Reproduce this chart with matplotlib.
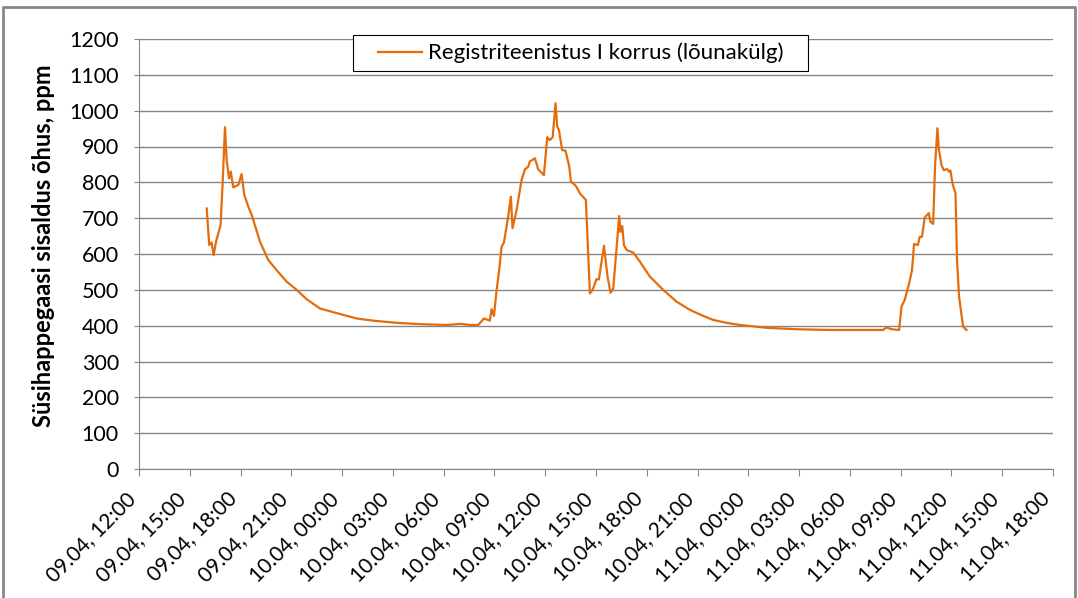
import matplotlib
matplotlib.use('Agg')
import matplotlib.pyplot as plt
from matplotlib.lines import Line2D
from matplotlib.patches import Rectangle
from matplotlib.transforms import ScaledTranslation

# hours since 09.04 12:00
hours = [4.0, 4.15, 4.29, 4.41, 4.55, 4.82, 4.94, 5.08, 5.18, 5.32, 5.42, 5.57, 5.87,
         6.06, 6.22, 6.46, 6.66, 7.15, 7.64, 8.13, 8.72, 9.31, 9.9, 10.69, 11.68, 12.86,
         13.84, 15.2, 16.7, 18.2, 19.0, 19.55, 20.04, 20.38, 20.73, 20.83, 20.97, 21.13,
         21.28, 21.42, 21.56, 21.81, 21.97, 22.07, 22.31, 22.6, 22.8, 23.0, 23.09, 23.39,
         23.59, 23.92, 24.12, 24.28, 24.44, 24.61, 24.71, 24.81, 25.0, 25.2, 25.42, 25.52,
         25.81, 26.05, 26.4, 26.64, 26.8, 27.03, 27.17, 27.47, 27.68, 27.86, 28.02, 28.37,
         28.45, 28.55, 28.65, 28.81, 29.2, 29.59, 30.18, 30.97, 31.76, 32.55, 33.3, 33.92,
         34.7, 35.5, 37.08, 38.85, 40.8, 42.6, 43.96, 44.16, 44.46, 44.91, 45.05, 45.24,
         45.5, 45.67, 45.79, 46.02, 46.12, 46.26, 46.42, 46.66, 46.76, 46.92, 47.03, 47.17,
         47.25, 47.41, 47.55, 47.74, 47.86, 47.94, 48.06, 48.24, 48.33, 48.45, 48.69, 48.89]
ppm = [727, 625, 632, 597, 634, 681, 797, 954, 862, 811, 830, 786, 793,
       823, 765, 732, 709, 634, 583, 555, 523, 500, 474, 448, 435, 420,
       414, 408, 404, 402, 405, 402, 402, 420, 414, 446, 427, 500,
       555, 620, 632, 704, 760, 672, 723, 806, 836, 844, 858, 867,
       836, 820, 926, 918, 926, 1021, 955, 946, 890, 888, 844, 802,
       790, 769, 751, 490, 500, 530, 529, 623, 537, 492, 504, 706,
       662, 678, 625, 611, 604, 579, 537, 500, 467, 444, 428, 416,
       408, 402, 394, 390, 388, 388, 388, 395, 390, 388, 453, 472,
       518, 555, 628, 625, 648, 648, 702, 714, 690, 684, 844, 951,
       895, 848, 834, 837, 830, 833, 797, 769, 583, 481, 397, 388]

tick_hours = list(range(0, 55, 3))
tick_labels = ['09.04, 12:00', '09.04, 15:00', '09.04, 18:00', '09.04, 21:00',
               '10.04, 00:00', '10.04, 03:00', '10.04, 06:00', '10.04, 09:00',
               '10.04, 12:00', '10.04, 15:00', '10.04, 18:00', '10.04, 21:00',
               '11.04, 00:00', '11.04, 03:00', '11.04, 06:00', '11.04, 09:00',
               '11.04, 12:00', '11.04, 15:00', '11.04, 18:00']
series_name = 'Registriteenistus I korrus (lõunakülg)'

W, H = 1078, 598
plt.rcParams['font.family'] = ['Lato', 'DejaVu Sans']
fig = plt.figure(figsize=(W / 100, H / 100), dpi=100)
ax = fig.add_axes([139/W, 1 - 469/H, 914/W, 430/H])

ax.plot(hours, ppm, color='#E46C0A', lw=1.6, zorder=3)

ax.set_xlim(0, 54)
ax.set_ylim(0, 1200)
ax.set_yticks(range(0, 1201, 100))
ax.set_xticks(tick_hours)
ax.set_xticklabels(tick_labels, rotation=45, ha='right', va='center', rotation_mode='anchor')
ax.tick_params(axis='y', labelsize=15.5, colors='#000000', color='#868686',
               direction='inout', length=7, pad=11)
ax.tick_params(axis='x', labelsize=15, colors='#000000', color='#868686',
               direction='out', length=5, pad=14)
shift = ScaledTranslation(-5/72, 0, fig.dpi_scale_trans)
for lab in ax.get_xticklabels():
    lab.set_transform(lab.get_transform() + shift)
ax.grid(axis='y', color='#868686', lw=1)
ax.set_axisbelow(True)
for s in ['top', 'right']:
    ax.spines[s].set_visible(False)
for s in ['left', 'bottom']:
    ax.spines[s].set_color('#868686')
ax.set_ylabel('Süsihappegaasi sisaldus õhus, ppm', fontsize=17, fontweight='bold')
ax.yaxis.set_label_coords(-0.092, 0.519)

# legend box
ax.add_patch(Rectangle((353/W, 1 - 71/H), 455/W, 36/H, transform=fig.transFigure,
                       fc='white', ec='black', lw=0.8, zorder=4, clip_on=False))
leg = ax.legend([Line2D([], [], color='#E46C0A', lw=1.6)], [series_name],
                loc='center left', bbox_to_anchor=(378/W, 1 - 53/H),
                bbox_transform=fig.transFigure, fontsize=16, frameon=False,
                borderpad=0, borderaxespad=0, handlelength=2.0, handletextpad=0.25)
leg.set_zorder(5)

# outer frame
fig.add_artist(Line2D([3/W, 3/W, 1075/W, 1075/W], [0, 1 - 7/H, 1 - 7/H, 0],
                      color='#868686', lw=2, transform=fig.transFigure))

fig.savefig('out.png', dpi=100)
